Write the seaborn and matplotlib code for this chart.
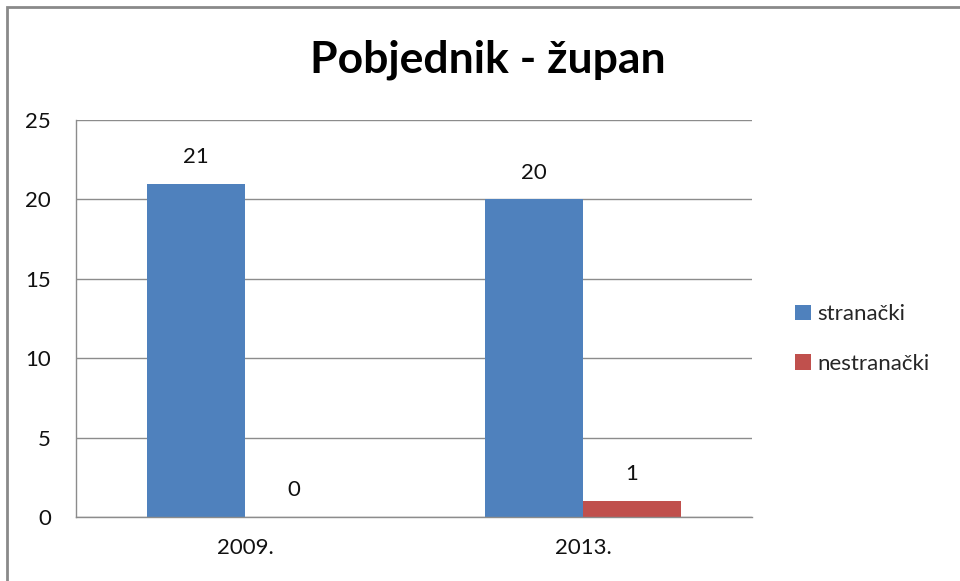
import matplotlib
matplotlib.use("Agg")
import matplotlib.pyplot as plt
import seaborn as sns
import pandas as pd
from matplotlib.patches import Patch, Rectangle

years = ["2009.", "2013."]
series = ["stranački", "nestranački"]
stranacki = [21, 20]
nestranacki = [0, 1]
yticks = [0, 5, 10, 15, 20, 25]
colors = ["#4F81BD", "#C0504D"]

df = pd.DataFrame({
    "year": years * 2,
    "type": [series[0]] * 2 + [series[1]] * 2,
    "value": stranacki + nestranacki,
})

sns.set_theme(style="white")
plt.rcParams["font.family"] = ["Lato", "DejaVu Sans"]

fig = plt.figure(figsize=(9.6, 5.81), dpi=100)
ax = fig.add_axes([76/960, 1-517/581, (752-76)/960, (517-120)/581])

sns.barplot(data=df, x="year", y="value", hue="type", palette=colors,
            width=0.58, ax=ax, saturation=1, legend=False, edgecolor="none")

for c in ax.containers:
    ax.bar_label(c, padding=12, fontsize=16, color="#111111")

ax.set_ylim(0, 25)
ax.set_yticks(yticks)
ax.set_yticklabels([str(v) for v in yticks])
ax.set_xlabel("")
ax.set_ylabel("")
ax.yaxis.grid(True, color="#8c8c8c", linewidth=1)
ax.set_axisbelow(True)
for s in ["top", "right"]:
    ax.spines[s].set_visible(False)
for s in ["left", "bottom"]:
    ax.spines[s].set_visible(True)
    ax.spines[s].set_color("#8c8c8c")
    ax.spines[s].set_linewidth(1)
ax.tick_params(axis="both", length=0, labelsize=16, colors="#111111")
ax.tick_params(axis="y", pad=18)
ax.tick_params(axis="x", pad=15)

fig.text(488/960, 1-60/581, "Pobjednik - župan", ha="center", va="center",
         fontsize=32, fontweight="bold", color="#000000")

handles = [Patch(facecolor=colors[0], edgecolor="none"),
           Patch(facecolor=colors[1], edgecolor="none")]
fig.legend(handles, series, loc="center left", bbox_to_anchor=(775/960, 1-339/581),
           frameon=False, fontsize=16, handlelength=0.7, handleheight=0.7,
           handletextpad=0.3, labelspacing=1.32)

fig.patches.append(Rectangle((7/960, -0.05), 1.2, 1-7/581+0.05, transform=fig.transFigure,
                             fill=False, edgecolor="#8a8a8a", linewidth=2))

fig.savefig("out.png", dpi=100)
